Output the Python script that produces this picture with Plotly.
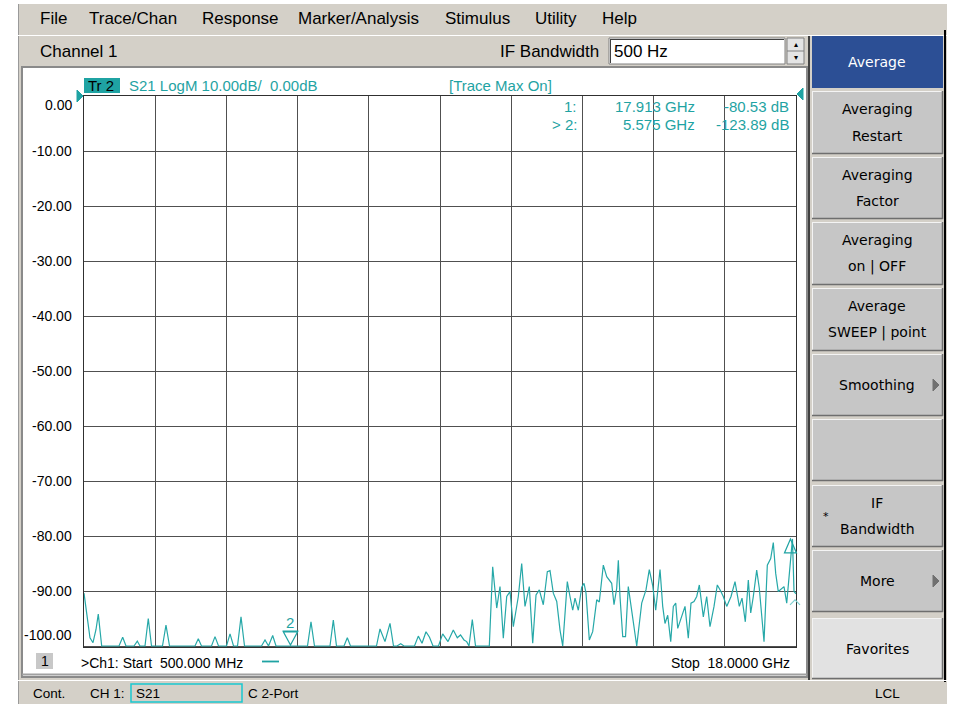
import plotly.graph_objects as go
import numpy as np

W, H = 958, 704

# ---------------- data ----------------
freq_ghz = [0.500, 0.574, 0.647, 0.721, 0.795, 0.851, 0.935, 1.360, 1.451, 1.532,
            1.729, 1.810, 1.876, 1.999, 2.080, 2.159, 2.429, 2.515, 2.602, 3.228,
            3.309, 3.388, 3.634, 3.720, 3.806, 4.003, 4.089, 4.175, 4.273, 4.359,
            4.445, 4.863, 4.949, 5.035, 5.138, 5.219, 5.575, 5.993, 6.079, 6.165,
            6.546, 6.628, 6.706, 6.891, 6.972, 7.050, 7.689, 7.775, 7.898, 8.021,
            8.107, 8.193, 8.284, 8.365, 8.623, 8.717, 8.808, 8.906, 8.992, 9.078,
            9.213, 9.316, 9.447, 9.577, 9.675, 9.754, 9.840, 9.906, 9.963, 10.044,
            10.123, 10.462, 10.545, 10.585, 10.644, 10.725, 10.806, 10.890, 10.971, 11.052,
            11.175, 11.258, 11.339, 11.445, 11.529, 11.610, 11.691, 11.789, 11.888, 11.954,
            12.035, 12.119, 12.200, 12.266, 12.379, 12.445, 12.512, 12.568, 12.650, 12.733,
            12.790, 12.839, 12.920, 13.003, 13.102, 13.165, 13.264, 13.348, 13.470, 13.527,
            13.593, 13.633, 13.674, 13.741, 13.810, 13.878, 13.962, 14.085, 14.208, 14.313,
            14.394, 14.478, 14.552, 14.608, 14.658, 14.724, 14.780, 14.847, 14.921, 14.985,
            15.044, 15.093, 15.149, 15.206, 15.272, 15.353, 15.419, 15.493, 15.560, 15.624,
            15.722, 15.805, 15.886, 15.985, 16.066, 16.149, 16.213, 16.297, 16.403, 16.501,
            16.558, 16.607, 16.673, 16.754, 16.828, 16.887, 16.951, 17.034, 17.098, 17.157,
            17.214, 17.295, 17.378, 17.442, 17.501, 17.565, 17.649, 17.705, 17.772, 17.853,
            17.913, 17.951, 18.000]

s21_db = [-90.4, -94.5, -98.5, -99.4, -97.0, -94.2, -100, -100, -98.4, -100,
          -100, -99.1, -100, -100, -95.0, -100, -100, -96.2, -100, -100,
          -98.7, -100, -100, -98.3, -100, -100, -97.8, -100, -100, -94.7,
          -100, -100, -98.9, -100, -98.1, -100, -123.89, -100, -95.6, -100,
          -100, -95.3, -100, -100, -98.5, -100, -100, -96.9, -99.2, -95.9,
          -100, -100, -99.6, -100, -100, -98.2, -99.5, -97.4, -98.4, -100,
          -100, -97.8, -99.2, -97.1, -98.5, -98.0, -98.9, -99.2, -100, -95.2,
          -100, -100, -85.6, -89.2, -93.1, -89.2, -98.6, -91.0, -90.1, -96.5,
          -91.0, -85.0, -92.8, -89.2, -99.5, -90.7, -89.8, -92.5, -86.5, -86.3,
          -90.4, -91.9, -97.1, -100, -88.3, -91.0, -93.5, -91.3, -93.5, -89.3,
          -88.6, -90.4, -98.9, -97.4, -91.6, -92.0, -85.3, -87.4, -88.6, -92.5,
          -89.5, -84.4, -91.0, -98.3, -98.3, -89.2, -93.5, -100, -92.2, -89.8,
          -86.1, -89.0, -93.5, -89.0, -86.1, -92.8, -95.9, -94.4, -99.2, -92.8,
          -92.2, -96.8, -95.5, -94.5, -92.8, -98.6, -92.2, -91.9, -91.0, -88.9,
          -94.7, -91.0, -96.5, -92.8, -88.9, -90.0, -91.0, -92.8, -91.0, -88.3,
          -91.0, -92.8, -91.3, -95.6, -88.0, -94.0, -91.0, -86.2, -89.5, -94.4,
          -99.2, -85.3, -84.1, -81.2, -86.8, -90.1, -89.5, -89.2, -92.2, -84.7,
          -80.53, -90.1, -90.5]

y_tick_vals = [0, -10, -20, -30, -40, -50, -60, -70, -80, -90, -100]
y_tick_text = ["0.00", "-10.00", "-20.00", "-30.00", "-40.00", "-50.00",
               "-60.00", "-70.00", "-80.00", "-90.00", "-100.00"]

marker_ids = ["1", "2"]
marker_freq_ghz = [17.913, 5.575]
marker_db = [-80.53, -123.89]

start_label = "500.000 MHz"
stop_label = "18.0000 GHz"
menu_items = ["File", "Trace/Chan", "Response", "Marker/Analysis", "Stimulus", "Utility", "Help"]
softkey_labels = [["Average"], ["Averaging", "Restart"], ["Averaging", "Factor"],
                  ["Averaging", "on | OFF"], ["Average", "SWEEP | point"], ["Smoothing"],
                  [], ["IF", "Bandwidth"], ["More"], ["Favorites"]]

# ---------------- geometry / style ----------------
X_RANGE = [0.5, 18.0]
Y_RANGE = [-100.2, 0.0]
PX_L, PX_R, PX_T, PX_B = 84, 796, 96, 647.1
XDOM = [PX_L / W, PX_R / W]
YDOM = [1 - PX_B / H, 1 - PX_T / H]

TEAL = "#1fa3a3"
TRACE = "#26a8a8"
GRAY = "#d4d0c8"
BTN = "#c6c6c6"
FONT = "Liberation Sans, Arial, sans-serif"
KFONT = "DejaVu Sans, Verdana, sans-serif"


def px(x):
    return x / W


def py(y):
    return 1 - y / H


def xd(f):  # data -> paper
    return XDOM[0] + (f - X_RANGE[0]) / (X_RANGE[1] - X_RANGE[0]) * (XDOM[1] - XDOM[0])


def yd(v):
    return YDOM[0] + (v - Y_RANGE[0]) / (Y_RANGE[1] - Y_RANGE[0]) * (YDOM[1] - YDOM[0])


shapes, annots = [], []


def rect(x0, y0, x1, y1, fill, line=None, lw=1, layer="below"):
    shapes.append(dict(type="rect", xref="paper", yref="paper",
                       x0=px(x0), x1=px(x1), y0=py(y1), y1=py(y0),
                       fillcolor=fill,
                       line=dict(color=line if line else fill, width=lw if line else 0),
                       layer=layer))


def seg(x0, y0, x1, y1, color, w=1, layer="below"):
    shapes.append(dict(type="line", xref="paper", yref="paper",
                       x0=px(x0), x1=px(x1), y0=py(y0), y1=py(y1),
                       line=dict(color=color, width=w), layer=layer))


def text(x, y, s, size=14, color="black", anchor="left", family=FONT):
    annots.append(dict(xref="paper", yref="paper", x=px(x), y=py(y), text=s,
                       showarrow=False, xanchor=anchor, yanchor="middle",
                       font=dict(size=size, color=color, family=family)))


def pix_path(xa, ya, path, color, fill=None, w=1.2, layer="above"):
    shapes.append(dict(type="path", xref="paper", yref="paper",
                       xsizemode="pixel", ysizemode="pixel", xanchor=xa, yanchor=ya,
                       path=path, fillcolor=fill if fill else "rgba(0,0,0,0)",
                       line=dict(color=color, width=w), layer=layer))


# window background
rect(18, 4, 947, 704, GRAY)
seg(18.5, 4, 18.5, 704, "#9a9a9a")

# menu bar
menu_x = [38, 87, 200, 296, 443, 533, 600]
for lab, mx in zip(menu_items, menu_x):
    text(mx, 19, lab, size=17)
seg(18, 35.5, 947, 35.5, "#ffffff")

# channel title row
text(38, 51, "Channel 1", size=17)
text(601, 51, "IF Bandwidth", size=17, anchor="right")
rect(609, 38, 785, 64, "#ffffff", line="#808080")
seg(610, 39.5, 784, 39.5, "#404040")
seg(610.5, 39, 610.5, 63, "#404040")
text(612, 51, "500 Hz", size=17)
rect(787, 38, 804, 64, "#e4e4e4", line="#808080")
seg(787, 51, 804, 51, "#808080")
text(795.5, 44.5, "\u25B4", size=8, anchor="center")
text(795.5, 57.5, "\u25BE", size=8, anchor="center")

# channel window
rect(22, 67, 807, 677, "#ffffff", line="#8a8a8a", lw=2)
seg(22, 674.5, 807, 674.5, "#a0a0a0", w=2)

# right softkey panel
seg(809, 36, 809, 680, "#404040", w=2)
seg(945, 30, 945, 682, "#000000", w=2)
btn_y = [(36, 88), (91, 154), (157, 219), (222, 285), (288, 351), (354, 416),
         (419, 481), (485, 547), (550, 612), (618, 679)]
for i, ((y0, y1), labs) in enumerate(zip(btn_y, softkey_labels)):
    if i == 0:
        rect(812, y0, 943, y1, "#2c4f95")
        col = "#ffffff"
    else:
        fill = "#e2e2e2" if i == len(btn_y) - 1 else BTN
        rect(812, y0, 943, y1, fill)
        seg(812, y0 + 0.5, 943, y0 + 0.5, "#f4f4f4")
        seg(812.5, y0, 812.5, y1, "#f4f4f4")
        seg(812, y1 - 0.5, 943, y1 - 0.5, "#6e6e6e", w=1.5)
        seg(942.5, y0, 942.5, y1, "#6e6e6e", w=1.5)
        col = "#000000"
    cy = (y0 + y1) / 2
    if len(labs) == 1:
        text(877, cy, labs[0], size=14, color=col, anchor="center", family=KFONT)
    elif len(labs) == 2:
        text(877, cy - 13, labs[0], size=14, color=col, anchor="center", family=KFONT)
        text(877, cy + 13, labs[1], size=14, color=col, anchor="center", family=KFONT)
    if labs in (["Smoothing"], ["More"]):
        pix_path(px(933), py(cy), "M0,-6 L6,0 L0,6 Z", "#707070", fill="#707070", w=1)
    if labs == ["IF", "Bandwidth"]:
        text(826, cy, "*", size=11, color="#000000", anchor="center", family=KFONT)

# status bar
seg(18, 680.5, 947, 680.5, "#ffffff")
text(31, 693, "Cont.", size=13.5)
text(88, 693, "CH 1:", size=13.5)
rect(131, 684, 242, 702, "rgba(0,0,0,0)", line="#18c8d0", lw=1.5)
text(134, 693, "S21", size=13.5)
text(246, 693, "C 2-Port", size=13.5)
text(873, 693, "LCL", size=13.5)

# inside channel window: header
rect(84, 78, 120, 93, TEAL)
text(86, 85.5, "Tr\u00a02", size=15)
text(127, 85.5, "S21 LogM 10.00dB/\u00a0\u00a00.00dB", size=15, color=TEAL)
text(447, 85.5, "[Trace Max On]", size=15, color=TEAL)

# marker readout
rows_y = [106.5, 124.5]
for (mid, mf, mv), ry in zip(zip(marker_ids, marker_freq_ghz, marker_db), rows_y):
    prefix = "> " if mid == "2" else ""
    text(579, ry, f"{prefix}{mid}:", size=15, color=TEAL, anchor="right")
    text(697, ry, f"{mf:.3f} GHz", size=15, color=TEAL, anchor="right")
    text(791, ry, f"{mv:.2f} dB", size=15, color=TEAL, anchor="right")

# y tick labels (drawn at axis positions)
for i, (v, lab) in enumerate(zip(y_tick_vals, y_tick_text)):
    shift = -9 if i == 0 else (11.5 if i == len(y_tick_vals) - 1 else 0)
    annots.append(dict(xref="paper", yref="y", x=px(74), y=v, yshift=shift, text=lab,
                       showarrow=False, xanchor="right", yanchor="middle",
                       font=dict(size=14, color="#000000", family=FONT)))

# bottom stimulus labels
rect(36, 653, 53, 669, "#c8c8c8")
text(44.5, 661, "1", size=14, anchor="center")
text(79, 662.5, f">Ch1: Start\u00a0\u00a0{start_label}", size=14)
seg(262, 661.5, 279, 661.5, TEAL, w=1.8)
text(792, 662.5, f"Stop\u00a0\u00a0{stop_label}", size=14, anchor="right")

# reference position arrows at 0 dB
pix_path(xd(X_RANGE[0]), yd(0), "M-1,0 L-7,6 L-7,-6 Z", TEAL, fill=TEAL, w=1)
pix_path(xd(X_RANGE[1]), yd(0), "M1,2 L7,8 L7,-4 Z", TEAL, fill=TEAL, w=1)

# markers
m1f, m2f = marker_freq_ghz
m1v, m2v = [max(v, -100) for v in marker_db]
pix_path(xd(m1f) - 2 / W, yd(m1v), "M0,0 L-6,-14 L6,-14 Z", TEAL, w=1.2)
pix_path(xd(X_RANGE[1]), yd(-91.6), "M-6,-5 L-1,0 L4,-5", "#7fd0d0", w=1.2)
pix_path(xd(m2f), yd(m2v), "M0,1 L-7,14 L7,14 Z M-8,15 L8,15", TEAL, w=1.2)
annots.append(dict(xref="paper", yref="paper", x=xd(m2f), y=yd(m2v), yshift=24,
                   text=marker_ids[1], showarrow=False, xanchor="center", yanchor="middle",
                   font=dict(size=15, color=TEAL, family=FONT)))

fig = go.Figure()
fig.add_trace(go.Scatter(x=freq_ghz, y=np.clip(s21_db, -100, 0), mode="lines",
                         line=dict(color=TRACE, width=1.2), hoverinfo="skip",
                         showlegend=False))

fig.update_layout(
    width=W, height=H, margin=dict(l=0, r=0, t=0, b=0),
    paper_bgcolor="#ffffff", plot_bgcolor="#ffffff",
    shapes=shapes, annotations=annots, showlegend=False,
    xaxis=dict(domain=XDOM, range=X_RANGE, tick0=0.5, dtick=1.75, showticklabels=False,
               ticks="", showgrid=True, gridcolor="#505050", gridwidth=1, zeroline=False,
               showline=True, linecolor="#303030", linewidth=1, mirror=True,
               layer="below traces", fixedrange=True),
    yaxis=dict(domain=YDOM, range=Y_RANGE, tick0=0, dtick=10, showticklabels=False,
               ticks="", showgrid=True, gridcolor="#505050", gridwidth=1, zeroline=False,
               showline=True, linecolor="#303030", linewidth=1, mirror=True,
               layer="below traces", fixedrange=True),
)

fig.write_html("out.html", config={"displayModeBar": False, "staticPlot": True},
               post_script="document.body.style.margin='0';document.body.style.overflow='hidden';")
